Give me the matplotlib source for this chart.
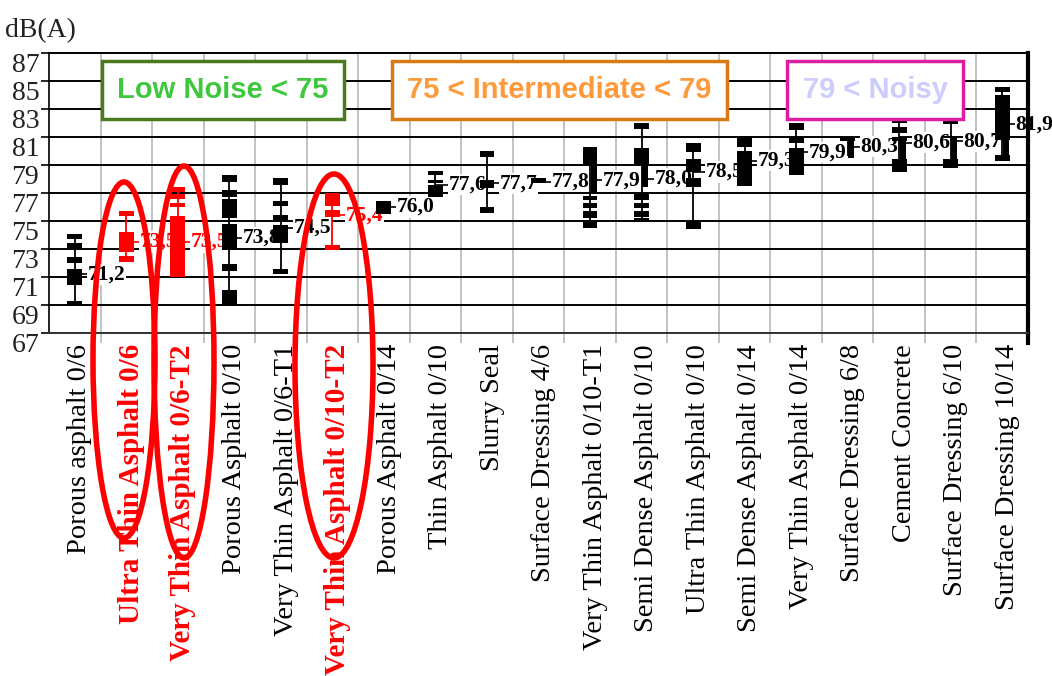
import numpy as np
import matplotlib.pyplot as plt
from matplotlib.patches import Ellipse, Rectangle
from matplotlib.transforms import IdentityTransform

plt.rcParams['font.family'] = ['Liberation Serif', 'DejaVu Serif']

categories = ["Porous asphalt 0/6", "Ultra Thin Asphalt 0/6", "Very Thin Asphalt 0/6-T2",
              "Porous Asphalt 0/10", "Very Thin Asphalt 0/6-T1", "Very Thin Asphalt 0/10-T2",
              "Porous Asphalt 0/14", "Thin Asphalt 0/10", "Slurry Seal", "Surface Dressing 4/6",
              "Very Thin Asphalt 0/10-T1", "Semi Dense Asphalt 0/10", "Ultra Thin Asphalt 0/10",
              "Semi Dense Asphalt 0/14", "Very Thin Asphalt 0/14", "Surface Dressing 6/8",
              "Cement Concrete", "Surface Dressing 6/10", "Surface Dressing 10/14"]
red_idx = [1, 2, 5]
means = [71.2, 73.5, 73.5, 73.8, 74.5, 75.4, 76.0, 77.6, 77.7, 77.8,
         77.9, 78.0, 78.5, 79.3, 79.9, 80.3, 80.6, 80.7, 81.9]
mean_labels = ["71,2", "73,5", "73,5", "73,8", "74,5", "75,4", "76,0", "77,6", "77,7", "77,8",
               "77,9", "78,0", "78,5", "79,3", "79,9", "80,3", "80,6", "80,7", "81,9"]

# measured ranges (low, high) in dB(A) for each surface
blocks = [
    [(73.7, 74.1), (73.1, 73.4), (72.0, 72.4), (70.4, 71.6), (68.9, 69.3)],
    [(75.35, 75.7), (72.8, 74.2), (72.1, 72.5)],
    [(77.1, 77.4), (76.6, 76.9), (76.0, 76.3), (71.0, 75.35)],
    [(77.8, 78.3), (76.7, 77.2), (75.2, 76.6), (72.9, 74.8), (71.4, 71.9), (68.9, 70.1)],
    [(77.6, 78.1), (76.1, 76.4), (75.1, 75.4), (73.4, 74.7), (71.2, 71.6)],
    [(76.1, 77.0), (75.3, 75.8), (72.9, 73.3)],
    [(75.5, 76.4)],
    [(78.3, 78.6), (77.7, 77.9), (76.7, 77.6)],
    [(79.6, 80.0), (77.35, 77.9), (75.6, 76.0)],
    [(77.7, 78.1)],
    [(79.0, 80.3), (76.5, 76.8), (75.9, 76.3), (75.2, 75.7), (74.5, 74.9)],
    [(81.6, 82.0), (79.0, 80.2), (76.5, 76.9), (75.9, 76.3), (75.3, 75.7), (74.9, 75.2)],
    [(79.9, 80.6), (78.5, 79.4), (77.4, 78.1), (74.4, 74.9)],
    [(80.3, 81.1), (77.5, 80.0)],
    [(81.5, 82.0), (80.6, 81.0), (78.3, 80.2)],
    [(80.7, 81.0)],
    [(82.0, 82.4), (81.3, 81.7), (80.7, 81.0), (78.5, 79.4)],
    [(81.9, 82.3), (80.9, 81.1), (78.8, 79.4)],
    [(84.2, 84.6), (80.8, 84.0), (79.3, 79.7)],
]
narrow = {10: [(77.1, 79.0)], 11: [(77.4, 79.0)], 15: [(79.5, 80.7)],
          16: [(79.4, 81.0)], 17: [(79.4, 81.1)], 18: [(79.6, 80.8)]}

zones = ["Low Noise < 75", "75 < Intermediate < 79", "79 < Noisy"]
zone_text_col = ["#3ec83e", "#ff9a3c", "#ccccff"]
zone_edge_col = ["#4a7a1c", "#d97a14", "#dd1ea0"]
zone_x = [(0.054, 0.301), (0.350, 0.693), (0.754, 0.934)]

fig = plt.figure(figsize=(10.52, 6.76), dpi=100)
ax = fig.add_axes([49 / 1052, (676 - 333) / 676, 979 / 1052, 280 / 676])
ax.set_xlim(-0.5, len(categories) - 0.5)
ax.set_ylim(67, 87)
ax.set_axisbelow(True)

for i, (blk, m, lab) in enumerate(zip(blocks, means, mean_labels)):
    col = 'red' if i in red_idx else 'black'
    lows = [b[0] for b in blk] + [b[0] for b in narrow.get(i, [])]
    highs = [b[1] for b in blk] + [b[1] for b in narrow.get(i, [])]
    ax.vlines(i, min(lows) + 0.15, max(highs) - 0.15, color=col, lw=1.3, zorder=2.3)
    ax.bar([i] * len(blk), [b[1] - b[0] for b in blk], bottom=[b[0] for b in blk],
           width=0.29, color=col, zorder=2.3)
    if i in narrow:
        nb = narrow[i]
        ax.bar([i + 0.07] * len(nb), [b[1] - b[0] for b in nb], bottom=[b[0] for b in nb],
               width=0.12, color=col, zorder=2.3)
    ax.hlines(m, i, i + 0.32, color=col, lw=1.2, zorder=1.5)
    ax.annotate(lab, xy=(i, m), xytext=(13, 0), textcoords='offset pixels',
                va='center', ha='left', fontsize=15.5, fontweight='bold', color=col,
                bbox=dict(facecolor='white', edgecolor='none', pad=0.5),
                zorder=2, annotation_clip=False)

# zone boxes
for txt, tc, ec, (x0, x1) in zip(zones, zone_text_col, zone_edge_col, zone_x):
    ax.add_patch(Rectangle((x0, 0.764), x1 - x0, 0.207, transform=ax.transAxes,
                           facecolor='white', edgecolor=ec, lw=2.5, zorder=3))
    ax.text((x0 + x1) / 2, 0.8675, txt, transform=ax.transAxes, ha='center', va='center',
            fontsize=21, fontweight='bold', color=tc, family='Liberation Sans', zorder=3.1)

# axes styling
ax.set_yticks(np.arange(67, 88, 2))
ax.set_xticks(np.arange(len(categories)) + 0.1)  # labels sit a little right of the marks
ax.set_xticklabels(categories, rotation=90, fontsize=20.4, va='top', ha='center')
for i, t in enumerate(ax.get_xticklabels()):
    if i in red_idx:
        t.set_color('red')
        t.set_fontweight('bold')
        t.set_fontsize(21)
ax.set_xticks(np.arange(0.5, len(categories) - 0.5, 1), minor=True)
ax.tick_params(axis='x', which='major', length=0, pad=8)
ax.tick_params(axis='x', which='minor', length=7, color='#b8b8b8', width=1.2)
ax.tick_params(axis='y', length=6, width=1.2, pad=1, labelsize=20, labelcolor='#222222')
for t in ax.get_yticklabels():
    t.set_va('top')
ax.grid(axis='y', color='black', lw=1.4)
ax.grid(axis='x', which='minor', color='#b8b8b8', lw=1.2)
ax.spines['right'].set_linewidth(3)
ax.spines['left'].set_linewidth(1.2)
ax.spines['bottom'].set_linewidth(1.4)
ax.spines['bottom'].set_color('#333333')
ax.spines['top'].set_linewidth(1.4)
ax.plot([1, 1], [0, -0.035], transform=ax.transAxes, color='black', lw=3, clip_on=False)

fig.text(5 / 1052, 1 - 31 / 676, "dB(A)", fontsize=20, va='center', ha='left', color='#222222')

# red hand-drawn ellipses around the highlighted surfaces
fig.canvas.draw()
ell_specs = [(1, 124, 360, 62, 356), (2, 184, 362, 60, 392), (5, 334, 366, 78, 384)]
for idx, cx, cy, w, h in ell_specs:
    x_pix = ax.transData.transform((idx, 70))[0] + (cx - (49 + 979 * (idx + 0.5) / 19))
    e = Ellipse((x_pix, 676 - cy), w, h, transform=IdentityTransform(), fill=False,
                edgecolor='red', lw=4, zorder=5, clip_on=False)
    fig.add_artist(e)

fig.savefig('out.png', dpi=100)
